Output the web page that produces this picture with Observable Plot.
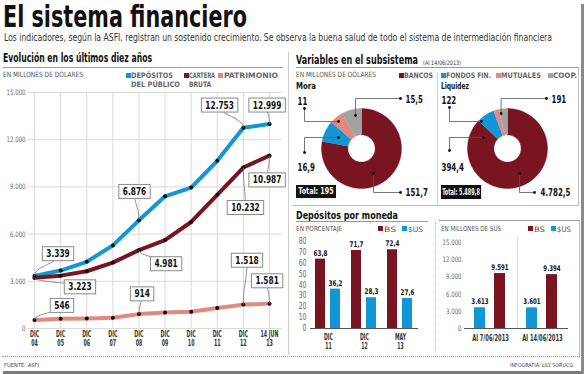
<!DOCTYPE html>
<html><head><meta charset="utf-8">
<script src="https://cdn.jsdelivr.net/npm/d3@7"></script>
<script src="https://cdn.jsdelivr.net/npm/@observablehq/plot@0.6"></script>
<style>
body{margin:0;background:#fff}
#root{position:relative;width:584px;height:374px;overflow:hidden;background:#fff}
.t{position:absolute;white-space:nowrap;transform-origin:0 0;line-height:1}
.ln{position:absolute}
.plot{position:absolute}
.sw{position:absolute;width:5px;height:5px}
</style></head><body><div id="root"></div><script>
// ---------- DATA ----------
const years = ["DIC\n04","DIC\n05","DIC\n06","DIC\n07","DIC\n08","DIC\n09","DIC\n10","DIC\n11","DIC\n12","14 JUN\n13"];
const depositos = [3339,3683,4240,5280,6876,8400,8960,10660,12753,12999];
const cartera = [3223,3360,3640,4190,4981,5620,6770,8500,10232,10987];
const patrimonio = [546,620,640,690,914,1020,1070,1300,1518,1581];
const lineTicks = [0,3000,6000,9000,12000,15000];

const entidades = ["BANCOS","FONDOS FIN.","MUTUALES","COOP."];
const mora = [151.7,16.9,11,15.5];
const liquidez = [4782.5,394.4,122,191];
const moraTotal = 195;
const liquidezTotal = 5489.8;

const periodos = ["DIC\n11","DIC\n12","MAY\n13"];
const pctBs = [63.8,71.7,72.4];
const pctSus = [36.2,28.3,27.6];
const pctTicks = [0,10,20,30,40,50,60,70,80];

const fechas = ["Al 7/06/2013","Al 14/06/2013"];
const montoSus = [3613,3601];
const montoBs = [9591,9394];
const montoTicks = [0,3000,6000,9000,12000,15000];

// annotation placement (label anchor in data units)
const lineNotes = [
  {s:"dep",i:0,lx:0.90,ly:4736},
  {s:"car",i:0,lx:1.74,ly:2630},
  {s:"pat",i:0,lx:1.05,ly:1449},
  {s:"dep",i:4,lx:3.83,ly:8693},
  {s:"car",i:4,lx:5.04,ly:4098},
  {s:"pat",i:4,lx:4.12,ly:2183},
  {s:"dep",i:8,lx:7.09,ly:14183},
  {s:"dep",i:9,lx:8.91,ly:14183},
  {s:"car",i:9,lx:8.91,ly:9427},
  {s:"car",i:8,lx:8.08,ly:7672},
  {s:"pat",i:8,lx:8.14,ly:4321},
  {s:"pat",i:9,lx:8.91,ly:3013}
];
const moraNotes = [
  {k:2,tx:-1.6,ty:1.175,p:[[-1.425,1.0],[-1.425,0.675],[-0.575,0.675]]},
  {k:3,tx:1.1,ty:1.225,p:[[0.975,1.25],[-0.15,1.25],[-0.15,0.825]]},
  {k:1,tx:-1.6,ty:-0.475,p:[[-1.425,-0.1],[-1.425,0.275],[-0.575,0.275]]},
  {k:0,tx:1.1,ty:-1.1,p:[[0.975,-1.1],[0.3,-1.1],[0.3,-0.625]]}
];
const liqNotes = [
  {k:2,tx:-1.65,ty:1.2,p:[[-1.45,1.025],[-1.45,0.675],[-0.65,0.675]]},
  {k:3,tx:1.1,ty:1.225,p:[[0.975,1.25],[-0.16,1.25],[-0.16,0.875]]},
  {k:1,tx:-1.65,ty:-0.475,p:[[-1.45,-0.05],[-1.45,0.275],[-0.6,0.275]]},
  {k:0,tx:0.825,ty:-1.1,p:[[0.675,-1.1],[0.3,-1.1],[0.3,-0.625]]}
];

// ---------- STYLE ----------
const FONT = '"Liberation Sans Narrow","DejaVu Sans Condensed",sans-serif';
const HFONT = '"DejaVu Sans Condensed","Liberation Sans Narrow",sans-serif';
const BLUE = "#1196d6", RED = "#781520", PINK = "#e3887f", GRAY = "#a2a2a2";
const entColors = [RED, BLUE, PINK, GRAY];
const loc = d3.formatLocale({decimal:",",thousands:".",grouping:[3],currency:["",""]});
const fmtInt = loc.format(",d"), fmt1 = loc.format(",.1f");
const fmtV = v => Number.isInteger(v) ? fmtInt(v) : fmt1(v);

const root = document.getElementById("root");
function T(txt, x, y, size, o = {}) {
  const d = document.createElement("div");
  d.className = "t"; d.textContent = txt;
  Object.assign(d.style, {left:x+"px", top:y+"px", fontSize:size+"px", fontWeight:o.w||"normal",
    color:o.c||"#222", fontFamily:o.f||FONT});
  if (o.lh) d.style.lineHeight = o.lh;
  if (o.bg) Object.assign(d.style, {background:o.bg, padding:o.pad||"0"});
  root.appendChild(d);
  if (o.width) { const w = d.getBoundingClientRect().width; d.style.transform = `scaleX(${o.width/w})`; }
  return d;
}
function L(x, y, w, h, c, extra) {
  const d = document.createElement("div"); d.className = "ln";
  Object.assign(d.style, {left:x+"px", top:y+"px", width:w+"px", height:h+"px", background:c});
  if (extra) Object.assign(d.style, extra);
  root.appendChild(d);
}
function SW(x, y, c) {
  const d = document.createElement("div"); d.className = "sw";
  Object.assign(d.style, {left:x+"px", top:y+"px", background:c});
  root.appendChild(d);
}
function place(svg, x, y) {
  const w = document.createElement("div"); w.className = "plot";
  w.style.left = x+"px"; w.style.top = y+"px";
  w.appendChild(svg); root.appendChild(w);
  return svg;
}
// squeeze SVG texts horizontally (the reference uses a very condensed face)
function condense(svg, sel, f) {
  d3.select(svg).selectAll(sel).each(function(){
    const spans = this.querySelectorAll("tspan");
    const els = spans.length ? Array.from(spans) : [this];
    els.forEach(el => {
      const w = el.getComputedTextLength();
      if (w > 0) { el.setAttribute("textLength", w*f); el.setAttribute("lengthAdjust", "spacingAndGlyphs"); }
    });
  });
}

// ---------- HEADERS ----------
T("El sistema financiero", 3, 3.1, 30, {w:"bold", f:HFONT, c:"#111", width:244, lh:0.9});
T("Los indicadores, según la ASFI, registran un sostenido crecimiento. Se observa la buena salud de todo el sistema de intermediación financiera", 4, 31.8, 10.5, {c:"#333", width:548});
T("Evolución en los últimos diez años", 3, 53.2, 11.5, {w:"bold", f:HFONT, c:"#111", width:149});
L(3, 67, 280, 1, "#9a9a9a");
T("EN MILLONES DE DÓLARES", 3, 71, 7.2, {c:"#555", width:80});
SW(126, 72.5, BLUE); T("DEPÓSITOS", 131, 71.6, 7.5, {w:"bold", c:"#666", width:42});
T("DEL PÚBLICO", 131, 80.6, 7.5, {w:"bold", c:"#666", width:49});
SW(184, 72.5, RED); T("CARTERA", 189, 71.6, 7.5, {w:"bold", c:"#666", width:26});
T("BRUTA", 189, 80.6, 7.5, {w:"bold", c:"#666", width:22});
SW(218, 72.5, PINK); T("PATRIMONIO", 224, 71.6, 7.5, {w:"bold", c:"#666", width:54});

L(288, 52, 1, 303, "#cfcfcf");

T("Variables en el subsistema", 296, 55.2, 11.5, {w:"bold", f:HFONT, c:"#111", width:122});
T("(Al 14/06/2013)", 423, 59.5, 6.2, {c:"#333", width:38});
L(296, 67, 283, 1, "#9a9a9a");
T("EN MILLONES DE DÓLARES", 296, 71, 7.2, {c:"#555", width:80});
const legX = [[399,404,29],[441,446,45],[496,501,40],[548,553,24]];
entidades.forEach((e,k)=>{ SW(legX[k][0], 72.5, entColors[k]); T(e, legX[k][1], 71.6, 7.5, {w:"bold", c:"#666", width:legX[k][2]}); });
T("Mora", 296, 81.8, 9, {w:"bold", c:"#111", width:20});
T("Liquidez", 441, 81.8, 9, {w:"bold", c:"#111", width:28});
L(437, 72, 1, 133, "#cfcfcf");
L(578, 67, 1, 138, "#bdbdbd");
L(292, 205, 287, 1, "#bdbdbd");

T("Depósitos por moneda", 296, 209.6, 11, {w:"bold", f:HFONT, c:"#111", width:102});
L(296, 221, 132, 1, "#9a9a9a");
T("EN PORCENTAJE", 296, 225.5, 7, {c:"#555", width:46});
SW(378, 226, RED); T("BS", 384, 225.5, 7.5, {c:"#555", width:12});
SW(402, 226, BLUE); T("$US", 408, 225.5, 7.5, {c:"#555", width:15});

L(439, 220, 140, 1, "#9a9a9a");
L(435, 222, 0, 130, "transparent", {borderLeft:"1px dotted #bbb"});
L(579, 220, 1, 138, "#bdbdbd");
T("EN MILLONES DE SUS", 441, 225.5, 7, {c:"#555", width:60});
SW(528, 226, RED); T("BS", 534, 225.5, 7.5, {c:"#555", width:11});
SW(551, 226, BLUE); T("$US", 557, 225.5, 7.5, {c:"#555", width:14});
L(517, 237, 1, 91, "#dcdcdc");

L(2, 356, 578, 0, "transparent", {borderTop:"1px dotted #999"});
T("FUENTE: ASFI", 4, 363, 5.5, {c:"#444", width:35});
T("INFOGRAFÍA: LILY SORUCO", 510, 363, 5.5, {c:"#444", width:63});
L(3, 371, 581, 3, "#7a7a7a");
L(581, 4, 3, 370, "#8a8a8a");

// ---------- LINE CHART ----------
const seriesMap = {dep:depositos, car:cartera, pat:patrimonio};
const idx = d3.range(years.length);
const lc = Plot.plot({
  width:290, height:268, marginTop:6, marginBottom:26, marginLeft:27, marginRight:8,
  x:{type:"linear", domain:[-0.27,9.5]},
  y:{domain:[0,15000]},
  style:{fontFamily:FONT, background:"transparent", overflow:"visible"},
  marks:[
    Plot.ruleY(lineTicks, {stroke:"#dadada"}),
    Plot.ruleX(idx, {y1:0, y2:15000, stroke:"#dadada"}),
    Plot.axisY(lineTicks, {tickSize:0, tickPadding:2, tickFormat:fmtInt, fontSize:7.5, fill:"#666", label:null}),
    Plot.axisX(idx, {tickSize:0, tickPadding:2.5, tickFormat:i=>years[i], fontSize:8.5, lineHeight:1.0, fill:"#333", fontWeight:"bold", label:null}),
    Plot.line(patrimonio, {x:(d,i)=>i, y:d=>d, stroke:PINK, strokeWidth:4}),
    Plot.line(depositos, {x:(d,i)=>i, y:d=>d, stroke:BLUE, strokeWidth:4}),
    Plot.line(cartera, {x:(d,i)=>i, y:d=>d, stroke:RED, strokeWidth:4}),
    Plot.dot(depositos, {x:(d,i)=>i, y:d=>d, r:2, fill:"#111"}),
    Plot.dot(cartera, {x:(d,i)=>i, y:d=>d, r:2, fill:"#111"}),
    Plot.dot(patrimonio, {x:(d,i)=>i, y:d=>d, r:2, fill:"#111"}),
    Plot.link(lineNotes, {x1:"i", y1:d=>seriesMap[d.s][d.i], x2:"lx", y2:"ly", curve:"bump-y", stroke:"#777", strokeWidth:0.8}),
    Plot.text(lineNotes, {x:"lx", y:"ly", text:d=>fmtInt(seriesMap[d.s][d.i]), fontSize:10, fontWeight:"bold", fill:"#111"})
  ]
});
place(lc, 0, 86);
condense(lc, 'g[aria-label="y-axis tick label"] text', 0.8);
condense(lc, 'g[aria-label="x-axis tick label"] text', 0.62);
condense(lc, 'g[aria-label="text"] text', 0.82);
d3.select(lc).selectAll('g[aria-label="text"] text').each(function(){
  const b = this.getBBox();
  const r = document.createElementNS("http://www.w3.org/2000/svg","rect");
  r.setAttribute("x", b.x-4); r.setAttribute("y", b.y-1.5);
  r.setAttribute("width", b.width+8); r.setAttribute("height", b.height+3);
  r.setAttribute("fill", "#fff"); r.setAttribute("stroke", "#8a8a8a"); r.setAttribute("stroke-width", 1);
  const tr = this.getAttribute("transform"); if (tr) r.setAttribute("transform", tr);
  this.parentNode.insertBefore(r, this);
});

// ---------- DONUTS ----------
function donut(values, notes) {
  const total = d3.sum(values);
  let a = 0;
  const R = 1, r0 = 0.34;
  const slices = values.map((v,k)=>{
    const a0 = a, a1 = a + v/total*2*Math.PI; a = a1;
    const n = Math.max(2, Math.ceil((a1-a0)/0.02));
    const pts = [];
    for (let j=0;j<=n;j++){ const t=a0+(a1-a0)*j/n; pts.push({x:R*Math.sin(t), y:R*Math.cos(t)}); }
    for (let j=n;j>=0;j--){ const t=a0+(a1-a0)*j/n; pts.push({x:r0*Math.sin(t), y:r0*Math.cos(t)}); }
    return {k, pts};
  });
  const leaders = notes.flatMap((n,j)=>n.p.map(([x,y])=>({j,x,y})));
  const ends = notes.flatMap(n=>[n.p[0], n.p[n.p.length-1]].map(([x,y])=>({x,y})));
  return Plot.plot({
    width:144, height:114, margin:0,
    x:{domain:[-1.725,1.875], axis:null},
    y:{domain:[-1.4,1.45], axis:null},
    style:{fontFamily:FONT, background:"transparent", overflow:"visible"},
    marks:[
      ...slices.map(s=>Plot.line(s.pts, {x:"x", y:"y", fill:entColors[s.k], stroke:entColors[s.k], strokeWidth:0.4})),
      Plot.line(leaders, {x:"x", y:"y", z:"j", stroke:"#555", strokeWidth:0.8}),
      Plot.dot(ends, {x:"x", y:"y", r:1.4, fill:"#111"}),
      Plot.text(notes, {x:"tx", y:"ty", text:d=>fmtV(values[d.k]), textAnchor:"start", fontSize:9.8, fontWeight:"bold", fill:"#111"})
    ]
  });
}
const d1 = place(donut(mora, moraNotes), 292, 90);
const d2 = place(donut(liquidez, liqNotes), 438, 90);
condense(d1, 'g[aria-label="text"] text', 0.8);
condense(d2, 'g[aria-label="text"] text', 0.8);
T("Total: " + fmtV(moraTotal), 296, 185, 9, {w:"bold", c:"#fff", bg:"#111", pad:"2px 3px", width:40});
T("Total: " + fmt1(liquidezTotal), 441, 185, 9.5, {w:"bold", c:"#fff", bg:"#111", pad:"2px 2px", width:40});

// ---------- BAR CHART: PERCENT ----------
const pctData = periodos.flatMap((p,i)=>[{p, c:"BS", v:pctBs[i]}, {p, c:"$US", v:pctSus[i]}]);
const b1 = place(Plot.plot({
  width:140, height:120, marginTop:9, marginBottom:24, marginLeft:18, marginRight:14,
  fx:{domain:periodos, padding:0},
  x:{domain:["BS","$US"], paddingInner:0.32, paddingOuter:0.32, axis:null},
  y:{domain:[0,80]},
  color:{domain:["BS","$US"], range:[RED, BLUE]},
  style:{fontFamily:FONT, background:"transparent", overflow:"visible"},
  marks:[
    Plot.axisY(pctTicks, {tickSize:0, tickPadding:4, fontSize:8, fill:"#666", label:null}),
    Plot.axisFx({anchor:"bottom", tickSize:0, tickPadding:5, fontSize:8, fontWeight:"bold", lineHeight:1.1, fill:"#333", label:null}),
    Plot.barY(pctData, {fx:"p", x:"c", y:"v", fill:"c"}),
    Plot.text(pctData, {fx:"p", x:"c", y:"v", text:d=>fmt1(d.v), dy:-6, fontSize:7.8, fontWeight:"bold", fill:"#111"}),
    Plot.ruleY([0], {stroke:"#555"})
  ]
}), 292, 232);
condense(b1, 'g[aria-label="text"] text', 0.8);
condense(b1, 'g[aria-label="fx-axis tick label"] text', 0.64);
condense(b1, 'g[aria-label="y-axis tick label"] text', 0.85);

// ---------- BAR CHART: AMOUNTS ----------
const montoData = fechas.flatMap((f,i)=>[{f, c:"$US", v:montoSus[i]}, {f, c:"BS", v:montoBs[i]}]);
const b2 = place(Plot.plot({
  width:144, height:120, marginTop:10, marginBottom:24, marginLeft:27, marginRight:12,
  fx:{domain:fechas, padding:0},
  x:{domain:["$US","BS"], paddingInner:0.44, paddingOuter:0.5, axis:null},
  y:{domain:[0,15000]},
  color:{domain:["BS","$US"], range:[RED, BLUE]},
  style:{fontFamily:FONT, background:"transparent", overflow:"visible"},
  marks:[
    Plot.axisY(montoTicks, {tickSize:0, tickPadding:3, tickFormat:fmtInt, fontSize:7.5, fill:"#666", label:null}),
    Plot.axisFx({anchor:"bottom", tickSize:0, tickPadding:6, fontSize:8.5, fontWeight:"bold", fill:"#333", label:null}),
    Plot.barY(montoData, {fx:"f", x:"c", y:"v", fill:"c"}),
    Plot.text(montoData, {fx:"f", x:"c", y:"v", text:d=>fmtInt(d.v), dy:-6, fontSize:7.8, fontWeight:"bold", fill:"#111"}),
    Plot.ruleY([0], {stroke:"#555"})
  ]
}), 436, 232);
condense(b2, 'g[aria-label="text"] text', 0.78);
condense(b2, 'g[aria-label="fx-axis tick label"] text', 0.68);
condense(b2, 'g[aria-label="y-axis tick label"] text', 0.8);
</script></body></html>
